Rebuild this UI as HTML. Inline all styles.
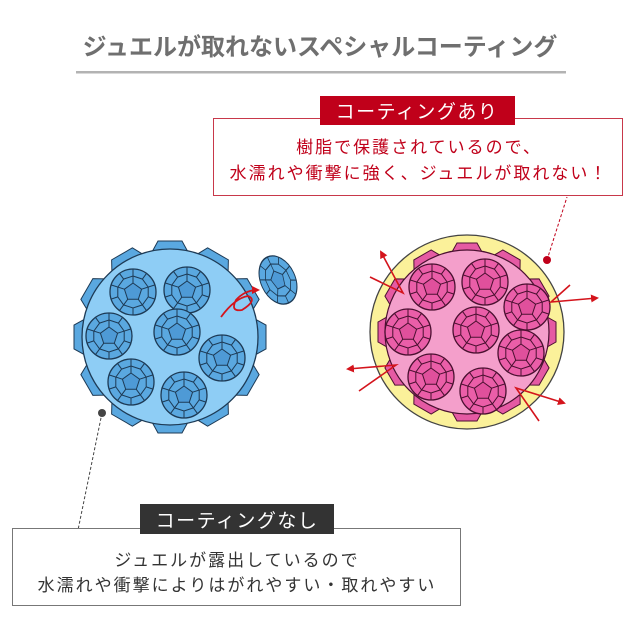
<!DOCTYPE html>
<html><head><meta charset="utf-8"><style>
html,body{margin:0;padding:0;background:#fff;}
svg{display:block;font-family:"Liberation Sans","Noto Sans CJK JP",sans-serif;}
</style></head><body>
<svg width="640" height="640" viewBox="0 0 640 640" xmlns="http://www.w3.org/2000/svg">
<defs>
<g id="gb">
<circle r="23" fill="#5aa8e0" stroke="#1d3a55" stroke-width="1.3"/>
<polygon points="0,-9 8.6,-2.8 5.3,7.3 -5.3,7.3 -8.6,-2.8" fill="#4e9ad6" stroke="#1d3a55" stroke-width="1"/>
<polygon points="0,-16 9.4,-12.9 15.2,-4.9 15.2,4.9 9.4,12.9 0,16 -9.4,12.9 -15.2,4.9 -15.2,-4.9 -9.4,-12.9" fill="none" stroke="#1d3a55" stroke-width="1"/>
<path d="M0,-9L0,-23M8.6,-2.8L22,-7.1M5.3,7.3L13.5,18.6M-5.3,7.3L-13.5,18.6M-8.6,-2.8L-22,-7.1M9.4,-12.9L13.5,-18.6M15.2,4.9L21.9,7.1M0,16L0,23M-15.2,4.9L-21.9,7.1M-9.4,-12.9L-13.5,-18.6" stroke="#1d3a55" stroke-width="1"/>
</g>
<g id="gp">
<circle r="23" fill="#ea5ea8" stroke="#4a1030" stroke-width="1.3"/>
<polygon points="0,-9 8.6,-2.8 5.3,7.3 -5.3,7.3 -8.6,-2.8" fill="#e0509c" stroke="#4a1030" stroke-width="1"/>
<polygon points="0,-16 9.4,-12.9 15.2,-4.9 15.2,4.9 9.4,12.9 0,16 -9.4,12.9 -15.2,4.9 -15.2,-4.9 -9.4,-12.9" fill="none" stroke="#4a1030" stroke-width="1"/>
<path d="M0,-9L0,-23M8.6,-2.8L22,-7.1M5.3,7.3L13.5,18.6M-5.3,7.3L-13.5,18.6M-8.6,-2.8L-22,-7.1M9.4,-12.9L13.5,-18.6M15.2,4.9L21.9,7.1M0,16L0,23M-15.2,4.9L-21.9,7.1M-9.4,-12.9L-13.5,-18.6" stroke="#4a1030" stroke-width="1"/>
</g>
<polygon id="sb" points="-18,-85 18,-85 12,-96 -12,-96" fill="#5aa8e0" stroke="#1d3a55" stroke-width="1"/>
<polygon id="sp" points="-15,-80 15,-80 10,-89 -10,-89" fill="#e55aa3" stroke="#4a1030" stroke-width="1"/>
<marker id="ar" markerWidth="8" markerHeight="8" refX="6" refY="4" orient="auto" markerUnits="userSpaceOnUse"><path d="M0,0L8,4L0,8z" fill="#d4141c"/></marker>
</defs>

<text x="320" y="55" text-anchor="middle" font-size="24" font-weight="bold" fill="#6f6f6f">ジュエルが取れないスペシャルコーティング</text>
<rect x="76" y="71" width="490" height="2.5" fill="#b3b3b3"/>

<g transform="translate(170,337)">
<use href="#sb" transform="rotate(0)"/><use href="#sb" transform="rotate(30)"/><use href="#sb" transform="rotate(60)"/><use href="#sb" transform="rotate(90)"/><use href="#sb" transform="rotate(120)"/><use href="#sb" transform="rotate(150)"/><use href="#sb" transform="rotate(180)"/><use href="#sb" transform="rotate(210)"/><use href="#sb" transform="rotate(240)"/><use href="#sb" transform="rotate(270)"/><use href="#sb" transform="rotate(300)"/><use href="#sb" transform="rotate(330)"/>
<circle r="88" fill="#8ecdf5" stroke="#1d3a55" stroke-width="1.3"/>
</g>
<use href="#gb" x="133" y="292"/><use href="#gb" x="187" y="290"/><use href="#gb" x="109" y="336"/><use href="#gb" x="177" y="332"/><use href="#gb" x="222" y="358"/><use href="#gb" x="131" y="382"/><use href="#gb" x="184" y="395"/>
<g transform="translate(278,280) rotate(-25) scale(0.75,1.1)"><use href="#gb"/></g>
<path d="M221,317 Q235,298 248,296 Q258,300 242,310 Q230,312 236,300 Q245,290 258,290" fill="none" stroke="#d4141c" stroke-width="1.8" marker-end="url(#ar)"/>

<g transform="translate(467,332)">
<circle r="97" fill="#fbf19a" stroke="#444" stroke-width="1.3"/>
<use href="#sp" transform="rotate(0)"/><use href="#sp" transform="rotate(30)"/><use href="#sp" transform="rotate(60)"/><use href="#sp" transform="rotate(90)"/><use href="#sp" transform="rotate(120)"/><use href="#sp" transform="rotate(150)"/><use href="#sp" transform="rotate(180)"/><use href="#sp" transform="rotate(210)"/><use href="#sp" transform="rotate(240)"/><use href="#sp" transform="rotate(270)"/><use href="#sp" transform="rotate(300)"/><use href="#sp" transform="rotate(330)"/>
<circle r="82" fill="#f49fcb" stroke="#4a1030" stroke-width="1.2"/>
</g>
<use href="#gp" x="432" y="287"/><use href="#gp" x="485" y="282"/><use href="#gp" x="527" y="307"/><use href="#gp" x="408" y="332"/><use href="#gp" x="476" y="330"/><use href="#gp" x="521" y="353"/><use href="#gp" x="431" y="377"/><use href="#gp" x="483" y="391"/>
<g stroke="#d4141c" stroke-width="1.6" fill="none">
<path d="M370,277 L403,293 L381,252" marker-end="url(#ar)"/>
<path d="M570,285 L551,302 L597,298" marker-end="url(#ar)"/>
<path d="M359,391 L396,365 L348,369" marker-end="url(#ar)"/>
<path d="M539,421 L516,388 L564,403" marker-end="url(#ar)"/>
</g>

<line x1="547" y1="260" x2="567" y2="197" stroke="#c0001a" stroke-width="1" stroke-dasharray="3,2"/>
<circle cx="547" cy="260" r="4" fill="#c0001a"/>
<rect x="213.5" y="118.5" width="409" height="77" fill="#fff" stroke="#c8384a" stroke-width="1"/>
<rect x="320" y="96" width="195" height="29" fill="#c0001a"/>
<text x="417" y="118" text-anchor="middle" font-size="19" fill="#fff" letter-spacing="1.5">コーティングあり</text>
<text x="419" y="153" text-anchor="middle" font-size="17" fill="#c0001a" letter-spacing="2">樹脂で保護されているので、</text>
<text x="419" y="179" text-anchor="middle" font-size="17" fill="#c0001a" letter-spacing="2">水濡れや衝撃に強く、ジュエルが取れない！</text>

<line x1="102" y1="413" x2="78" y2="530" stroke="#444" stroke-width="1" stroke-dasharray="3,2"/>
<circle cx="102" cy="413" r="4" fill="#444"/>
<rect x="12.5" y="528.5" width="448" height="77" fill="#fff" stroke="#777" stroke-width="1"/>
<rect x="140" y="504" width="194" height="30" fill="#333"/>
<text x="237" y="527" text-anchor="middle" font-size="19" fill="#fff" letter-spacing="1.5">コーティングなし</text>
<text x="237" y="566" text-anchor="middle" font-size="17" fill="#333" letter-spacing="2">ジュエルが露出しているので</text>
<text x="237" y="591" text-anchor="middle" font-size="17" fill="#333" letter-spacing="2">水濡れや衝撃によりはがれやすい・取れやすい</text>
</svg>
</body></html>
